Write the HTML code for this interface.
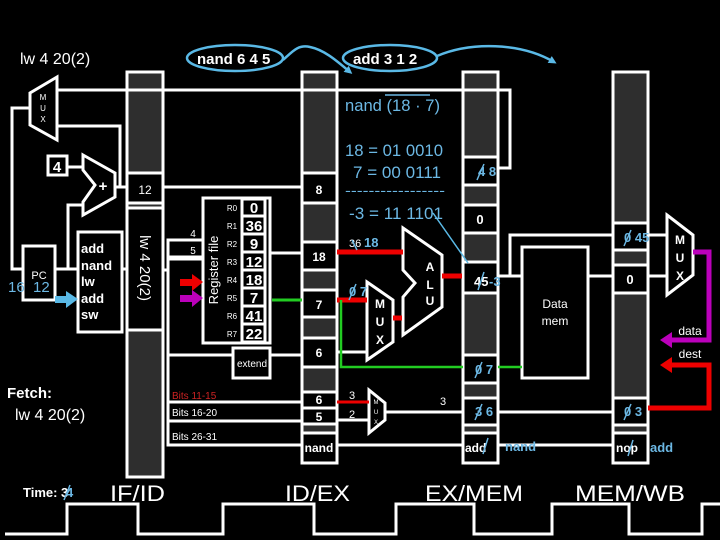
<!DOCTYPE html>
<html><head><meta charset="utf-8"><style>
html,body{margin:0;padding:0;background:#000;}
svg{display:block;}
text{font-family:"Liberation Sans",sans-serif;}
</style></head><body>
<svg width="720" height="540" viewBox="0 0 720 540" xmlns="http://www.w3.org/2000/svg">
<rect width="720" height="540" fill="#000"/>
<defs>
<marker id="ab" markerWidth="8" markerHeight="8" refX="5" refY="4" orient="auto" markerUnits="userSpaceOnUse"><path d="M0,0 L8,4 L0,8 z" fill="#5ab9e6"/></marker>
</defs>
<g fill="none" stroke="#fff" stroke-width="3">
<rect x="127" y="72" width="36" height="405" fill="#2e2e2e"/>
<rect x="302" y="72" width="35" height="391" fill="#2e2e2e"/>
<rect x="463" y="72" width="35" height="391" fill="#2e2e2e"/>
<rect x="613" y="72" width="35" height="391" fill="#2e2e2e"/>
<rect x="127" y="173" width="36" height="30" fill="#000"/>
<rect x="127" y="208" width="36" height="122" fill="#000"/>
<rect x="302" y="173" width="35" height="30" fill="#000"/>
<rect x="302" y="242" width="35" height="28" fill="#000"/>
<rect x="302" y="290" width="35" height="27" fill="#000"/>
<rect x="302" y="338" width="35" height="29" fill="#000"/>
<rect x="302" y="392" width="35" height="16" fill="#000"/>
<rect x="302" y="408" width="35" height="16" fill="#000"/>
<rect x="302" y="433" width="35" height="30" fill="#000"/>
<rect x="463" y="157" width="35" height="28" fill="#000"/>
<rect x="463" y="205" width="35" height="28" fill="#000"/>
<rect x="463" y="262" width="35" height="31" fill="#000"/>
<rect x="463" y="355" width="35" height="28" fill="#000"/>
<rect x="463" y="398" width="35" height="27" fill="#000"/>
<rect x="463" y="433" width="35" height="30" fill="#000"/>
<rect x="613" y="223" width="35" height="27" fill="#000"/>
<rect x="613" y="265" width="35" height="28" fill="#000"/>
<rect x="613" y="398" width="35" height="27" fill="#000"/>
<rect x="613" y="433" width="35" height="30" fill="#000"/>

<polygon points="57,77 30,93 30,125 57,140" fill="#000"/>
<polyline points="57,90 510,90 510,168 498,168"/>
<polyline points="57,126 120,126 120,187"/>
<polyline points="30,108 12,108 12,269 23,269"/>
<rect x="48" y="156" width="19" height="19" fill="#000"/>
<line x1="67" y1="167" x2="83" y2="167"/>
<polygon points="83,155 115,173 115,197 83,215 83,202 95,185 83,170" fill="#000"/>
<line x1="115" y1="187" x2="127" y2="187"/>
<rect x="23" y="246" width="32" height="54" fill="#000"/>
<polyline points="55,269 68,269 68,205 83,205"/>
<line x1="68" y1="269" x2="78" y2="269"/>
<rect x="78" y="232" width="44" height="100" fill="#000"/>
<line x1="122" y1="269" x2="127" y2="269"/>

<line x1="163" y1="187" x2="302" y2="187"/>
<line x1="163" y1="270" x2="168" y2="270"/>
<polyline points="203,240 168,240 168,257 203,257"/>
<polyline points="203,259 168,259 168,445 302,445"/>
<line x1="168" y1="355" x2="302" y2="355"/>
<line x1="168" y1="402" x2="302" y2="402"/>
<line x1="168" y1="421" x2="302" y2="421"/>
<rect x="203" y="198" width="67" height="145" fill="#000"/>
<rect x="242" y="199" width="23" height="17"/>
<rect x="242" y="216" width="23" height="18"/>
<rect x="242" y="234" width="23" height="18"/>
<rect x="242" y="252" width="23" height="18"/>
<rect x="242" y="270" width="23" height="18"/>
<rect x="242" y="288" width="23" height="18"/>
<rect x="242" y="306" width="23" height="18"/>
<rect x="242" y="324" width="23" height="18"/>
<line x1="270" y1="253" x2="302" y2="253"/>
<rect x="233" y="348" width="37" height="30" fill="#000"/>

<polygon points="403,228 442,255 442,307 403,335 403,297 415,283 403,270" fill="#000"/>
<polygon points="367,282 393,300 393,342 367,360" fill="#000"/>
<line x1="337" y1="352" x2="367" y2="352"/>
<polygon points="369,390 385,403 385,420 369,433" fill="#000"/>
<line x1="337" y1="420" x2="369" y2="420"/>
<line x1="385" y1="412" x2="463" y2="412"/>
<line x1="498" y1="412" x2="613" y2="412"/>
<line x1="337" y1="445" x2="463" y2="445"/>
<line x1="498" y1="445" x2="613" y2="445"/>

<rect x="522" y="247" width="66" height="131" fill="#000"/>
<polyline points="498,276 510,276 510,235 613,235"/>
<line x1="498" y1="276" x2="522" y2="276"/>
<line x1="588" y1="276" x2="613" y2="276"/>
<line x1="648" y1="235" x2="667" y2="235"/>
<line x1="648" y1="276" x2="667" y2="276"/>
<polygon points="667,215 693,235 693,275 667,295" fill="#000"/>

<polyline points="5,534 67,534 67,504 138,504 138,534 223,534 223,504 314,504 314,534 396,534 396,504 474,504 474,534 552,534 552,504 629,504 629,534 702,534 702,504 720,504"/>
</g>

<g fill="none">
<line x1="337" y1="252" x2="403" y2="252" stroke="#e00" stroke-width="5"/>
<line x1="337" y1="300" x2="367" y2="300" stroke="#e00" stroke-width="5"/>
<line x1="442" y1="276" x2="462" y2="276" stroke="#e00" stroke-width="5"/>
<line x1="393" y1="318" x2="402" y2="318" stroke="#e00" stroke-width="5"/>
<line x1="337" y1="402" x2="369" y2="402" stroke="#e00" stroke-width="3"/>
<line x1="272" y1="300" x2="302" y2="300" stroke="#2c2" stroke-width="3"/>
<polyline points="341,300 341,367 463,367" stroke="#2c2" stroke-width="2.5"/>
<line x1="498" y1="367" x2="522" y2="367" stroke="#2c2" stroke-width="2.5"/>
<polyline points="693,252 709,252 709,340 670,340" stroke="#b0b" stroke-width="5"/>
<polygon points="660,340 672,332 672,348" fill="#b0b"/>
<polyline points="648,408 709,408 709,365 670,365" stroke="#e00" stroke-width="5"/>
<polygon points="660,365 672,357 672,373" fill="#e00"/>
<polygon points="203,282 192,274 192,279 180,279 180,286 192,286 192,291" fill="#e00"/>
<polygon points="203,298 192,290 192,295 180,295 180,302 192,302 192,307" fill="#b0b"/>
<polygon points="78,299 66,291 66,296 55,296 55,303 66,303 66,308" fill="#5ab9e6"/>
<line x1="433" y1="213" x2="468" y2="263" stroke="#5ab9e6" stroke-width="1.5"/>
<ellipse cx="235" cy="58" rx="48" ry="13" stroke="#5ab9e6" stroke-width="2.5"/>
<ellipse cx="390" cy="58" rx="47" ry="13" stroke="#5ab9e6" stroke-width="2.5"/>
<path d="M283,60 C292,52 298,44 310,47 C325,50 338,62 350,72" stroke="#5ab9e6" stroke-width="2.5" marker-end="url(#ab)"/>
<path d="M437,56 C470,42 520,42 554,62" stroke="#5ab9e6" stroke-width="2.5" marker-end="url(#ab)"/>
</g>

<g fill="#fff">
<text x="20" y="64" font-size="16">lw 4 20(2)</text>
<text x="197" y="64" font-size="15" font-weight="bold">nand 6 4 5</text>
<text x="353" y="64" font-size="15" font-weight="bold">add 3 1 2</text>
<text x="43" y="100" font-size="8" text-anchor="middle">M</text>
<text x="43" y="111" font-size="8" text-anchor="middle">U</text>
<text x="43" y="122" font-size="8" text-anchor="middle">X</text>
<text x="57" y="172" font-size="15" font-weight="bold" text-anchor="middle">4</text>
<text x="103" y="191" font-size="15" font-weight="bold" text-anchor="middle">+</text>
<text x="145" y="194" font-size="12" text-anchor="middle">12</text>
<text x="39" y="279" font-size="11" text-anchor="middle">PC</text>
<g font-size="13" font-weight="bold"><text x="81" y="253">add</text><text x="81" y="270">nand</text><text x="81" y="286">lw</text><text x="81" y="303">add</text><text x="81" y="319">sw</text></g>
<text transform="translate(140,268) rotate(90)" font-size="15" text-anchor="middle">lw 4 20(2)</text>
<text x="193" y="237" font-size="10" text-anchor="middle">4</text>
<text x="193" y="254" font-size="10" text-anchor="middle">5</text>
<text transform="translate(218,270) rotate(-90)" font-size="13" text-anchor="middle">Register file</text>
<g font-size="8" text-anchor="middle"><text x="232" y="211">R0</text><text x="232" y="229">R1</text><text x="232" y="247">R2</text><text x="232" y="265">R3</text><text x="232" y="283">R4</text><text x="232" y="301">R5</text><text x="232" y="319">R6</text><text x="232" y="337">R7</text></g>
<g font-size="15" font-weight="bold" text-anchor="middle"><text x="254" y="213">0</text><text x="254" y="231">36</text><text x="254" y="249">9</text><text x="254" y="267">12</text><text x="254" y="285">18</text><text x="254" y="303">7</text><text x="254" y="321">41</text><text x="254" y="339">22</text></g>
<text x="252" y="367" font-size="10" text-anchor="middle">extend</text>
<text x="172" y="399" font-size="10" fill="#c22">Bits 11-15</text>
<text x="172" y="416" font-size="10">Bits 16-20</text>
<text x="172" y="440" font-size="10">Bits 26-31</text>
<text x="7" y="398" font-size="15" font-weight="bold">Fetch:</text>
<text x="15" y="420" font-size="16">lw 4 20(2)</text>
<g font-size="12" font-weight="bold" text-anchor="middle"><text x="319" y="194">8</text><text x="319" y="261">18</text><text x="319" y="309">7</text><text x="319" y="357">6</text><text x="319" y="404">6</text><text x="319" y="421">5</text><text x="319" y="452">nand</text></g>
<text x="352" y="399" font-size="11" text-anchor="middle">3</text>
<text x="352" y="418" font-size="11" text-anchor="middle">2</text>
<text x="443" y="405" font-size="11" text-anchor="middle">3</text>
<g font-size="12" font-weight="bold" text-anchor="middle"><text x="430" y="271">A</text><text x="430" y="289">L</text><text x="430" y="305">U</text><text x="380" y="308">M</text><text x="380" y="326">U</text><text x="380" y="344">X</text><text x="680" y="244">M</text><text x="680" y="262">U</text><text x="680" y="280">X</text></g>
<g font-size="6" text-anchor="middle"><text x="376" y="404">M</text><text x="376" y="414">U</text><text x="376" y="424">X</text></g>
<text x="480" y="224" font-size="13" font-weight="bold" text-anchor="middle">0</text>
<text x="630" y="284" font-size="13" font-weight="bold" text-anchor="middle">0</text>
<text x="555" y="308" font-size="12" text-anchor="middle">Data</text>
<text x="555" y="325" font-size="12" text-anchor="middle">mem</text>
<text x="690" y="335" font-size="12" text-anchor="middle">data</text>
<text x="690" y="358" font-size="12" text-anchor="middle">dest</text>
<text x="465" y="452" font-size="12" font-weight="bold">add</text>
<text x="616" y="452" font-size="12" font-weight="bold">nop</text>
<text x="23" y="497" font-size="13" font-weight="bold">Time: 3</text>
<text x="110" y="501" font-size="22" textLength="55" lengthAdjust="spacingAndGlyphs">IF/ID</text>
<text x="285" y="501" font-size="22" textLength="65" lengthAdjust="spacingAndGlyphs">ID/EX</text>
<text x="425" y="501" font-size="22" textLength="98" lengthAdjust="spacingAndGlyphs">EX/MEM</text>
<text x="575" y="501" font-size="22" textLength="110" lengthAdjust="spacingAndGlyphs">MEM/WB</text>
<text x="349" y="247" font-size="11">36</text>
<text x="474" y="286" font-size="13" font-weight="bold">45</text>
</g>
<g fill="#6cb8e4">
<text x="345" y="111" font-size="17" textLength="95" lengthAdjust="spacingAndGlyphs">nand (18 · 7)</text>
<line x1="385" y1="95" x2="430" y2="95" stroke="#6cb8e4" stroke-width="1.5"/>
<text x="345" y="156" font-size="17" textLength="98" lengthAdjust="spacingAndGlyphs">18 = 01  0010</text>
<text x="353" y="178" font-size="17" textLength="88" lengthAdjust="spacingAndGlyphs">7 = 00  0111</text>
<text x="345" y="195" font-size="14" textLength="100" lengthAdjust="spacingAndGlyphs">-----------------</text>
<text x="349" y="219" font-size="17" textLength="94" lengthAdjust="spacingAndGlyphs">-3 = 11  1101</text>
<text x="8" y="292" font-size="15">16</text>
<text x="33" y="292" font-size="15">12</text>
<text x="66" y="497" font-size="13" font-weight="bold">4</text>
<text x="364" y="247" font-size="13" font-weight="bold">18</text>
<text x="349" y="296" font-size="13" font-weight="bold">0 7</text>
<text x="478" y="176" font-size="13" font-weight="bold">4 8</text>
<text x="489" y="286" font-size="13" font-weight="bold">-3</text>
<text x="475" y="374" font-size="13" font-weight="bold">0 7</text>
<text x="475" y="416" font-size="13" font-weight="bold">3 6</text>
<text x="505" y="451" font-size="13" font-weight="bold">nand</text>
<text x="624" y="242" font-size="13" font-weight="bold">0 45</text>
<text x="624" y="416" font-size="13" font-weight="bold">0 3</text>
<text x="650" y="452" font-size="13" font-weight="bold">add</text>
<g stroke="#6cb8e4" stroke-width="1.5">
<line x1="352" y1="240" x2="357" y2="250"/>
<line x1="349" y1="300" x2="356" y2="284"/>
<line x1="477" y1="180" x2="484" y2="164"/>
<line x1="478" y1="290" x2="484" y2="272"/>
<line x1="475" y1="378" x2="482" y2="362"/>
<line x1="475" y1="420" x2="482" y2="404"/>
<line x1="624" y1="246" x2="631" y2="230"/>
<line x1="624" y1="420" x2="631" y2="404"/>
<line x1="483" y1="454" x2="488" y2="438"/>
<line x1="628" y1="456" x2="633" y2="440"/>
<line x1="64" y1="500" x2="70" y2="485"/>
</g>
</g>
</svg>
</body></html>
